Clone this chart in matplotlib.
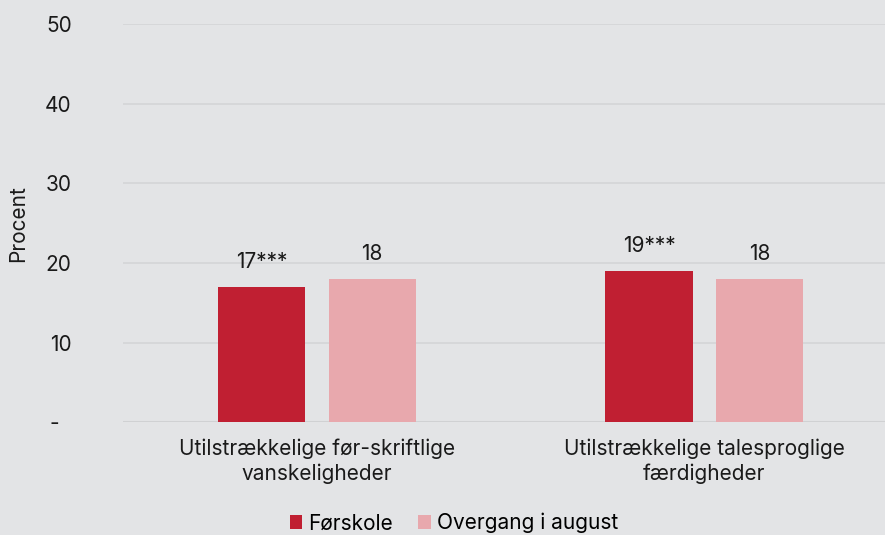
import numpy as np
import matplotlib
matplotlib.use("Agg")
import matplotlib.pyplot as plt

plt.rcParams['font.family'] = ['Inter', 'DejaVu Sans']

# data
categories = ["Utilstrækkelige før-skriftlige\nvanskeligheder",
              "Utilstrækkelige talesproglige\nfærdigheder"]
forskole = [17, 19]
overgang = [18, 18]
forskole_labels = ["17***", "19***"]
overgang_labels = ["18", "18"]
yticks = [0, 10, 20, 30, 40, 50]
ytick_labels = ["-  ", "10", "20", "30", "40", "50"]

bg = "#e3e4e6"
dark_red = "#c01f32"
pink = "#e8a8ad"
txt = "#1a1a1a"
fs = 15

fig = plt.figure(figsize=(8.85, 5.35), dpi=100, facecolor=bg)
ax = fig.add_axes([0.139, 0.211, 0.861, 0.744], facecolor=bg)

x = np.arange(len(categories))
w = 0.225
off = 0.143
b1 = ax.bar(x - off, forskole, w, color=dark_red, label="Førskole", zorder=3)
b2 = ax.bar(x + off, overgang, w, color=pink, label="Overgang i august", zorder=3)

for bars, labs in ((b1, forskole_labels), (b2, overgang_labels)):
    for rect, lab in zip(bars, labs):
        ax.annotate(lab, (rect.get_x() + rect.get_width() / 2, rect.get_height()),
                    xytext=(0, 11), textcoords="offset points", ha="center",
                    va="bottom", fontsize=fs, color=txt)

ax.set_ylim(0, 50)
ax.set_xlim(-0.5, 1.466)
ax.set_yticks(yticks)
ax.set_yticklabels(ytick_labels)
ax.set_xticks(x)
ax.set_xticklabels(categories, linespacing=1.25)
ax.tick_params(axis="both", length=0, labelsize=fs, colors=txt)
ax.tick_params(axis="y", pad=37)
ax.tick_params(axis="x", pad=12)
ax.grid(axis="y", color="#d4d5d7", linewidth=1.2, zorder=0)
for s in ax.spines.values():
    s.set_visible(False)
ax.axhline(0, color="#d0d1d3", linewidth=1.5, zorder=2)

ax.set_ylabel("Procent", fontsize=fs, color=txt)
ax.yaxis.set_label_coords(-0.125, 0.5)

fig.legend(handles=[b1, b2], loc="lower center", bbox_to_anchor=(0.513, -0.032),
           ncol=2, frameon=False, fontsize=fs, handlelength=0.6,
           handleheight=0.6, handletextpad=0.3, columnspacing=1.2)

fig.savefig("out.png", dpi=100, facecolor=bg)
